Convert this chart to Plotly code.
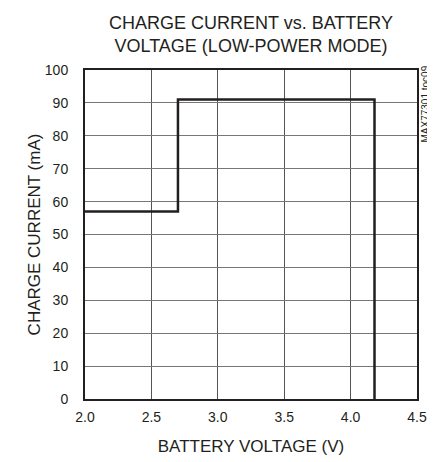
import plotly.graph_objects as go

# battery voltage (V) vs charge current (mA), low-power mode
voltage = [2.0, 2.7, 2.7, 4.18, 4.18]
current = [57, 57, 91, 91, 0]

x_ticks = [2.0, 2.5, 3.0, 3.5, 4.0, 4.5]
y_ticks = [0, 10, 20, 30, 40, 50, 60, 70, 80, 90, 100]

font_name = "Liberation Sans Narrow, Arial Narrow, Liberation Sans, Arial"

fig = go.Figure()
fig.add_trace(go.Scatter(x=voltage, y=current, mode="lines",
                         line=dict(color="#231f20", width=2.5),
                         showlegend=False, hoverinfo="skip"))

# page body adds an 8px margin, so the figure is 8px smaller than the window
fig.update_layout(
    width=427, height=454,
    margin=dict(l=77, r=18, t=62, b=63),
    paper_bgcolor="white", plot_bgcolor="white",
    font=dict(family=font_name, color="#231f20", size=14),
)

fig.update_xaxes(range=[2.0, 4.5], tickvals=x_ticks, tickformat=".1f",
                 showgrid=True, gridcolor="#555555", gridwidth=1,
                 showline=True, linecolor="#231f20", linewidth=2, mirror=True,
                 ticks="", zeroline=False, automargin=False, ticklabelstandoff=4,
                 title=dict(text="BATTERY VOLTAGE (V)", standoff=16))
fig.update_yaxes(range=[0, 100], tickvals=y_ticks,
                 showgrid=True, gridcolor="#777777", gridwidth=1,
                 showline=True, linecolor="#231f20", linewidth=2, mirror=True,
                 ticks="", zeroline=False, ticklabelstandoff=12, automargin=False,
                 title=dict(text="CHARGE CURRENT (mA)", standoff=0))

# title as an annotation so it sits just above the plot frame
fig.add_annotation(text="CHARGE CURRENT vs. BATTERY<br>VOLTAGE (LOW-POWER MODE)",
                   xref="paper", yref="paper", x=0.5, y=1,
                   xanchor="center", yanchor="bottom", yshift=12,
                   showarrow=False,
                   font=dict(size=18, family=font_name, color="#231f20"))

fig.add_annotation(text="MAX77301 toc09", xref="paper", yref="paper",
                   x=1, y=1, xanchor="center", yanchor="top",
                   xshift=8, yshift=6,
                   textangle=-90, showarrow=False,
                   font=dict(size=10, family=font_name, color="#231f20"))

fig.write_html("out.html")
